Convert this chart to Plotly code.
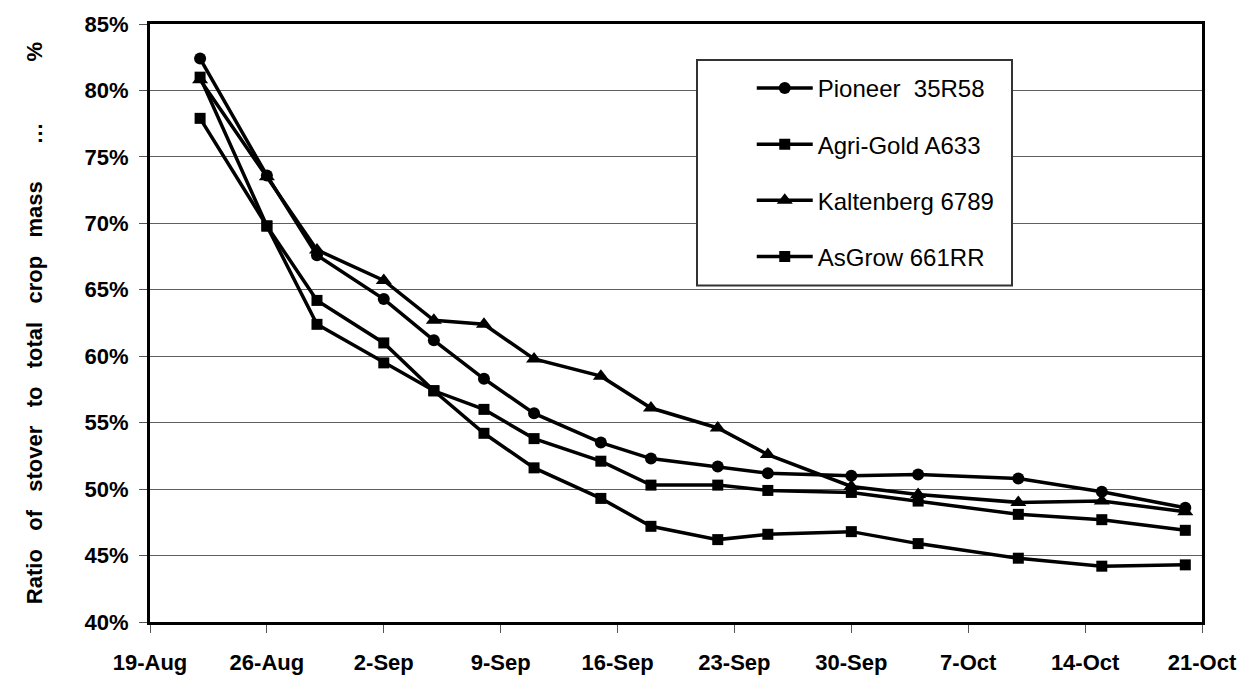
import plotly.graph_objects as go

# ---- data ----
dates = ["2005-08-22", "2005-08-26", "2005-08-29", "2005-09-02", "2005-09-05",
         "2005-09-08", "2005-09-11", "2005-09-15", "2005-09-18", "2005-09-22",
         "2005-09-25", "2005-09-30", "2005-10-04", "2005-10-10", "2005-10-15",
         "2005-10-20"]

pioneer = [82.4, 73.6, 67.6, 64.3, 61.2, 58.3, 55.7, 53.5, 52.3, 51.7,
           51.2, 51.0, 51.1, 50.8, 49.8, 48.6]
agrigold = [81.0, 69.8, 62.4, 59.5, 57.4, 56.0, 53.8, 52.1, 50.3, 50.3,
            49.9, 49.75, 49.1, 48.1, 47.7, 46.9]
kaltenberg = [80.8, 73.5, 68.0, 65.7, 62.7, 62.4, 59.8, 58.5, 56.1, 54.6,
              52.6, 50.2, 49.6, 49.0, 49.1, 48.3]
asgrow = [77.9, 69.8, 64.2, 61.0, 57.4, 54.2, 51.6, 49.3, 47.2, 46.2,
          46.6, 46.8, 45.9, 44.8, 44.2, 44.3]

series_names = ["Pioneer\u00a0\u00a035R58", "Agri-Gold A633", "Kaltenberg 6789", "AsGrow 661RR"]
series_values = [pioneer, agrigold, kaltenberg, asgrow]
series_symbols = ["circle", "square", "triangle-up", "square"]
series_sizes = [12, 11, 14, 11]

y_title = ("Ratio\u00a0\u00a0\u00a0of\u00a0\u00a0\u00a0stover\u00a0\u00a0\u00a0to\u00a0\u00a0\u00a0total"
           "\u00a0\u00a0\u00a0crop\u00a0\u00a0\u00a0mass\u00a0\u00a0\u00a0\u00a0\u00a0\u00a0…"
           "\u00a0\u00a0\u00a0\u00a0\u00a0\u00a0\u00a0\u00a0\u00a0\u00a0%")

FONT = "Liberation Sans, Arial, sans-serif"

fig = go.Figure()
for i, (name, vals, sym, sz) in enumerate(zip(series_names, series_values, series_symbols, series_sizes)):
    fig.add_trace(go.Scatter(
        x=dates, y=vals, name=name, mode="lines+markers",
        line=dict(color="black", width=3.5),
        marker=dict(symbol=sym, size=sz, color="black"),
        legendgroup=f"g{i}",
    ))

fig.update_layout(
    width=1249, height=687,
    margin=dict(l=150, r=47, t=20, b=54),
    paper_bgcolor="white", plot_bgcolor="white",
    font=dict(family=FONT, color="black"),
    showlegend=True,
    legend=dict(
        x=0.572, y=0.930, xanchor="left", yanchor="top",
        bgcolor="rgba(0,0,0,0)", borderwidth=0,
        font=dict(family=FONT, size=24, color="black"),
        itemwidth=56, tracegroupgap=22,
    ),
    shapes=[dict(
        type="rect", xref="paper", yref="paper",
        x0=(697 - 150) / 1052, x1=(1012 - 150) / 1052,
        y0=(633 - 288) / 613, y1=(633 - 57) / 613,
        line=dict(color="#333333", width=2), fillcolor="white", layer="above",
    )],
)

fig.update_xaxes(
    type="date",
    range=["2005-08-19", "2005-10-21"],
    tick0="2005-08-19", dtick=7 * 86400000,
    tickformat="%-d-%b",
    showgrid=False, zeroline=False,
    showline=True, linecolor="black", linewidth=3, mirror=True,
    ticks="outside", ticklen=8, tickcolor="#555555", tickwidth=1,
    tickfont=dict(family=FONT, size=22, color="black", weight="bold"),
    ticklabelstandoff=11,
)
fig.update_yaxes(
    range=[40, 85], dtick=5, tick0=40, ticksuffix="%",
    showgrid=True, gridcolor="#5f5f5f", gridwidth=1, zeroline=False,
    showline=True, linecolor="black", linewidth=3, mirror=True,
    ticks="outside", ticklen=8, tickcolor="#555555", tickwidth=1,
    tickfont=dict(family=FONT, size=22, color="black", weight="bold"),
    ticklabelstandoff=6,
    title=dict(text=y_title, font=dict(family=FONT, size=22, color="black", weight="bold"), standoff=36),
)

fig.write_html("out.html")
